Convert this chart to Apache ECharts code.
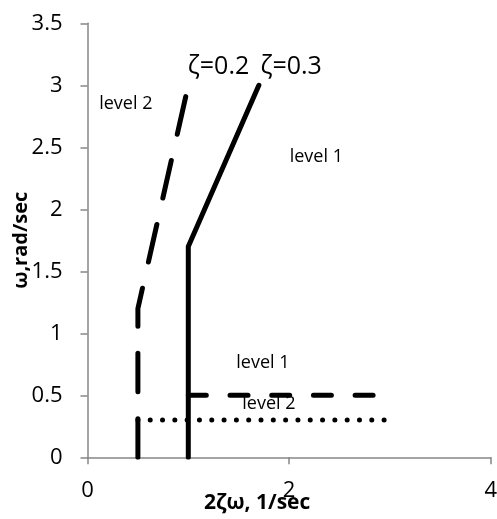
<!DOCTYPE html>
<html>
<head>
<meta charset="utf-8">
<script src="https://cdn.jsdelivr.net/npm/echarts@6/dist/echarts.min.js"></script>
<style>html,body{margin:0;padding:0;background:#fff}#c{width:497px;height:519px}</style>
</head>
<body>
<div id="c"></div>
<script>
// Boundary lines (x = 2ζω, y = ω)
const zeta02Line = [[0.5, 0], [0.5, 1.2], [1.0, 3.0]];
const zeta03Line = [[1.0, 0], [1.0, 1.7], [1.7, 3.0]];
const level05Line = [[1.0, 0.5], [3.0, 0.5]];
const level03Line = [[0.5, 0.3], [3.0, 0.3]];
// Annotation labels
const annoText = ['ζ=0.2', 'ζ=0.3', 'level 2', 'level 1', 'level 1', 'level 2'];
const annoX = [1.30, 2.02, 0.38, 2.27, 1.74, 1.80];
const annoY = [3.15, 3.15, 2.85, 2.42, 0.76, 0.43];
const annoSize = [25, 25, 18, 18, 18, 18];
// Axes
const xMin = 0, xMax = 4, xStep = 2;
const yMin = 0, yMax = 3.5, yStep = 0.5;
const xName = '2ζω, 1/sec';
const yName = 'ω,rad/sec';

const axisGrey = '#868686';
const font = 'Open Sans';
const chart = echarts.init(document.getElementById('c'));
const lineSeries = (data, type, width) => ({
  type: 'line', data, showSymbol: false, symbol: 'none', silent: true, z: 2,
  lineStyle: { color: '#000', width, type, cap: 'round', join: 'round' }
});
chart.setOption({
  animation: false,
  grid: { left: 87.5, right: 6.3, top: 23.3, bottom: 61.7, containLabel: false, outerBoundsMode: 'none' },
  xAxis: {
    type: 'value', min: xMin, max: xMax, interval: xStep,
    name: xName, nameLocation: 'middle', nameGap: 35, nameMoveOverlap: false,
    nameTextStyle: { fontFamily: font, fontWeight: 'bold', fontSize: 21, color: '#000', padding: [0, 64, 0, 0] },
    axisLine: { show: true, lineStyle: { color: axisGrey, width: 1.5 } },
    axisTick: { show: true, length: 7, lineStyle: { color: axisGrey, width: 1.5 } },
    axisLabel: { fontFamily: font, fontSize: 22, color: '#000', margin: 22 },
    splitLine: { show: false }
  },
  yAxis: {
    type: 'value', min: yMin, max: yMax, interval: yStep,
    name: yName, nameLocation: 'middle', nameGap: 56, nameRotate: 90, nameMoveOverlap: false,
    nameTextStyle: { fontFamily: font, fontWeight: 'bold', fontSize: 20, color: '#000' },
    axisLine: { show: true, lineStyle: { color: axisGrey, width: 1.5 } },
    axisTick: { show: true, length: 7, lineStyle: { color: axisGrey, width: 1.5 } },
    axisLabel: { fontFamily: font, fontSize: 22, color: '#000', margin: 25 },
    splitLine: { show: false }
  },
  series: [
    lineSeries(zeta02Line, [38.5, 27], 5),
    lineSeries(zeta03Line, 'solid', 5),
    lineSeries(level05Line, [18, 23.7], 5),
    lineSeries(level03Line, [0.01, 12.3], 5),
    {
      type: 'scatter', symbolSize: 0, silent: true, z: 5,
      itemStyle: { opacity: 1, color: '#000' },
      data: annoText.map((t, i) => ({ value: [annoX[i], annoY[i]], name: t,
        label: { show: true, position: 'inside', formatter: t, fontFamily: font, fontSize: annoSize[i], color: '#000', opacity: 1, textBorderWidth: 0 } }))
    }
  ]
});
</script>
</body>
</html>
